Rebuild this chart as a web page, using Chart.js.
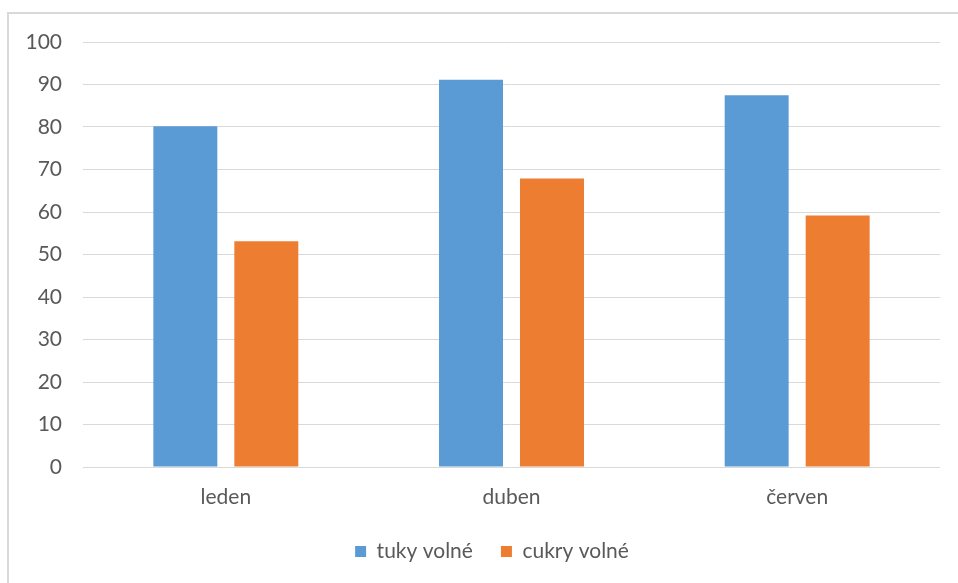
<!DOCTYPE html>
<html>
<head>
<meta charset="utf-8">
<script src="https://cdn.jsdelivr.net/npm/chart.js@4.4.1/dist/chart.umd.min.js"></script>
<style>
  html, body { margin: 0; padding: 0; background: #fff; overflow: hidden; }
  #frame { position: absolute; left: 7px; top: 12px; width: 1000px; height: 700px; border: 2px solid #d9d9d9; box-sizing: border-box; }
  #wrap { position: absolute; left: 0; top: 0; width: 958px; height: 583px; }
</style>
</head>
<body>
<div id="frame"></div>
<div id="wrap"><canvas id="c" width="958" height="583"></canvas></div>
<script>
const categories = ["leden", "duben", "červen"];
const seriesNames = ["tuky volné", "cukry volné"];
const tukyVolne = [80.2, 91.1, 87.5];
const cukryVolne = [53.1, 67.9, 59.2];
const yTicks = [0, 10, 20, 30, 40, 50, 60, 70, 80, 90, 100];

const FONT = { family: "Lato, 'Open Sans', sans-serif", size: 21 };
const TEXT = "#595959";

const legendPlacePlugin = {
  id: 'legendPlace',
  beforeLayout(chart) {
    const lg = chart.legend;
    if (lg && !lg._patched) {
      const orig = lg.fit.bind(lg);
      lg.fit = function () { orig(); this.height = 70; };
      lg._patched = true;
    }
  },
  afterLayout(chart) {
    const lg = chart.legend;
    if (lg) { lg.left += 44; }
  }
};

new Chart(document.getElementById('c'), {
  type: 'bar',
  data: {
    labels: categories,
    datasets: [
      { label: seriesNames[0], data: tukyVolne, backgroundColor: '#5B9BD5',
        categoryPercentage: 0.567, barPercentage: 0.79 },
      { label: seriesNames[1], data: cukryVolne, backgroundColor: '#ED7D31',
        categoryPercentage: 0.567, barPercentage: 0.79 }
    ]
  },
  plugins: [legendPlacePlugin],
  options: {
    responsive: false,
    animation: false,
    layout: { padding: { top: 42, right: 18, bottom: 0, left: 0 } },
    plugins: {
      tooltip: { enabled: false },
      legend: {
        position: 'bottom',
        labels: {
          font: FONT, color: TEXT,
          boxWidth: 11, boxHeight: 11, padding: 28
        }
      }
    },
    scales: {
      x: {
        grid: { display: false, drawTicks: false },
        border: { display: false },
        ticks: { font: FONT, color: TEXT, padding: 18 },
        afterFit(scale) { scale.height = 46; }
      },
      y: {
        min: 0, max: 100,
        afterBuildTicks(scale) { scale.ticks = yTicks.map(v => ({ value: v })); },
        grid: { color: '#d9d9d9', lineWidth: 1, drawTicks: false },
        border: { display: false },
        ticks: { font: FONT, color: TEXT, padding: 21, stepSize: 10 },
        afterFit(scale) { scale.width = 83; }
      }
    }
  }
});
</script>
</body>
</html>
